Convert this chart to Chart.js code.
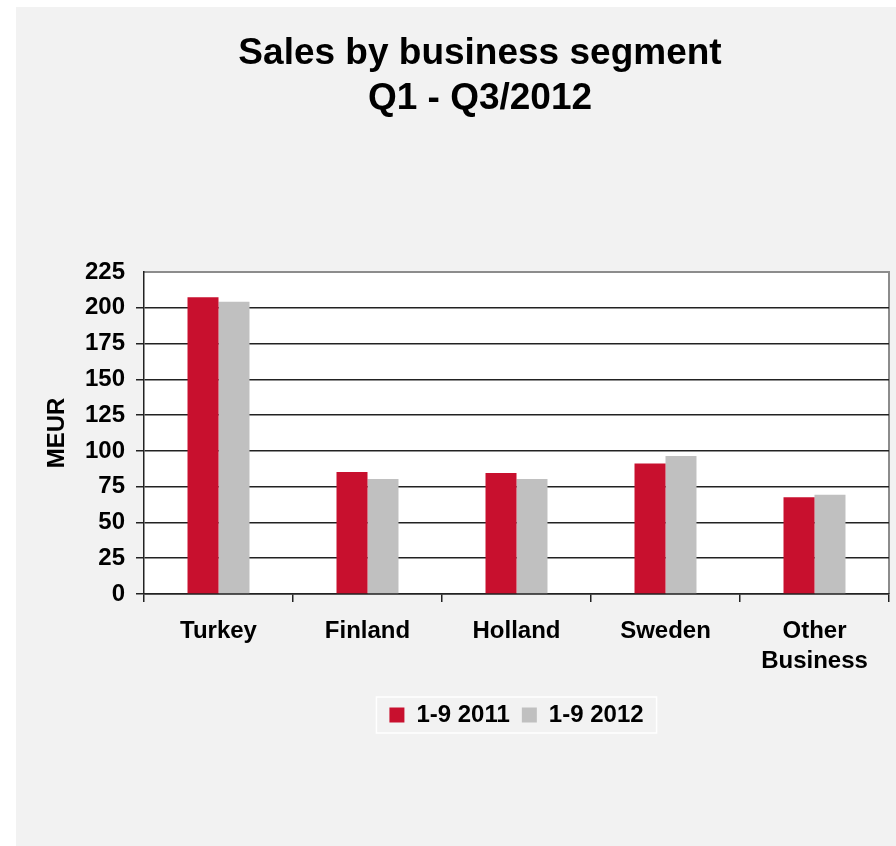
<!DOCTYPE html>
<html lang="en">
<head>
  <meta charset="UTF-8">
  <title>Sales by business segment</title>
  <script src="https://cdn.jsdelivr.net/npm/chart.js"></script>
  <style>
    html, body {
      margin: 0;
      padding: 0;
      background: #ffffff;
    }
    .panel {
      position: absolute;
      left: 16px;
      top: 7px;
      width: 880px;
      height: 839px;
      background: #f2f2f2;
    }
  </style>
</head>
<body>
  <div class="panel">
    <canvas id="salesChart" width="880" height="839"></canvas>
  </div>
  <script>
    const titleLines = ['Sales by business segment', 'Q1 - Q3/2012'];
    const segments = ['Turkey', 'Finland', 'Holland', 'Sweden', ['Other', 'Business']];
    const sales2011 = [207.4, 85.2, 84.5, 91.2, 67.6];
    const sales2012 = [204.2, 80.3, 80.3, 96.5, 69.4];
    const seriesNames = ['1-9 2011', '1-9 2012'];
    const yTicks = [0, 25, 50, 75, 100, 125, 150, 175, 200, 225];

    const FONT = "'Liberation Sans', Arial, sans-serif";

    // white plot area with a grey frame, plus the two-line heading
    const frame = {
      id: 'frame',
      beforeDraw(chart) {
        const { ctx, chartArea: a } = chart;
        ctx.save();
        ctx.fillStyle = '#ffffff';
        ctx.fillRect(a.left, a.top, a.right - a.left, a.bottom - a.top);
        ctx.strokeStyle = '#8c8c8c';
        ctx.lineWidth = 2;
        ctx.beginPath();
        ctx.moveTo(a.left, a.top);
        ctx.lineTo(a.right, a.top);
        ctx.lineTo(a.right, a.bottom);
        ctx.stroke();
        ctx.restore();
      },
      afterDraw(chart) {
        const { ctx } = chart;
        ctx.save();
        ctx.fillStyle = '#000000';
        ctx.font = 'bold 37px ' + FONT;
        ctx.textAlign = 'center';
        ctx.textBaseline = 'middle';
        titleLines.forEach((t, i) => ctx.fillText(t, 464, 47 + i * 45));
        // legend frame
        const lg = chart.legend;
        if (lg && lg.lineWidths) {
          const w = lg.lineWidths[0] + 14;
          const cx = (lg.left + lg.right) / 2;
          ctx.strokeStyle = '#ffffff';
          ctx.lineWidth = 1.5;
          ctx.strokeRect(cx - w / 2, lg.top + 6, w, 36);
        }
        ctx.restore();
      }
    };

    new Chart(document.getElementById('salesChart'), {
      type: 'bar',
      data: {
        labels: segments,
        datasets: [
          { label: seriesNames[0], data: sales2011, backgroundColor: '#c8102e' },
          { label: seriesNames[1], data: sales2012, backgroundColor: '#c0c0c0' }
        ]
      },
      options: {
        responsive: false,
        animation: false,
        layout: { padding: { top: 265, right: 7, bottom: 109, left: 0 } },
        datasets: {
          bar: { categoryPercentage: 0.416, barPercentage: 1.0 }
        },
        scales: {
          x: {
            afterFit: s => { s.height = 97; },
            grid: {
              offset: true,
              drawOnChartArea: false,
              tickLength: 8,
              lineWidth: 1.5,
              color: '#222222'
            },
            border: { color: '#222222', width: 1.5 },
            ticks: {
              color: '#000000',
              padding: 14,
              font: { family: FONT, size: 24, weight: 'bold', lineHeight: 1.25 }
            }
          },
          y: {
            min: 0,
            max: 225,
            afterFit: s => { s.width = 128; },
            afterBuildTicks: s => { s.ticks = yTicks.map(v => ({ value: v })); },
            grid: {
              tickLength: 8,
              lineWidth: 1.5,
              color: c => (c.tick && c.tick.value === 225 ? 'rgba(0,0,0,0)' : '#222222')
            },
            border: { color: '#222222', width: 1.5 },
            ticks: {
              color: '#000000',
              padding: 11,
              font: { family: FONT, size: 24, weight: 'bold' }
            },
            title: {
              display: true,
              text: 'MEUR',
              color: '#000000',
              padding: { top: 27, bottom: 0 },
              font: { family: FONT, size: 24, weight: 'bold' }
            }
          }
        },
        plugins: {
          title: { display: false },
          tooltip: { enabled: false },
          legend: {
            position: 'bottom',
            fullSize: false,
            labels: {
              boxWidth: 15,
              boxHeight: 15,
              padding: 12,
              color: '#000000',
              font: { family: FONT, size: 24, weight: 'bold' }
            }
          }
        }
      },
      plugins: [frame]
    });
  </script>
</body>
</html>
